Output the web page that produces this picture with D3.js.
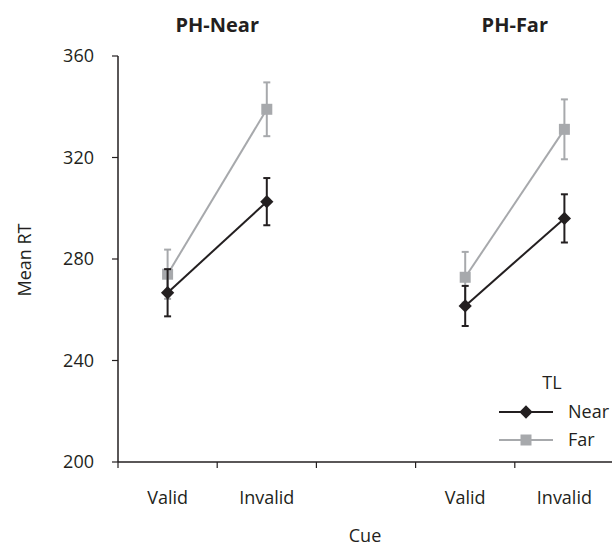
<!DOCTYPE html>
<html lang="en">
<head>
  <meta charset="UTF-8">
  <title>Mean RT by Cue</title>
  <script src="https://d3js.org/d3.v7.min.js"></script>
  <style>
    body {
      margin: 0;
      background: #fff;
    }
    text {
      font-family: "Open Sans", sans-serif;
      fill: #231f20;
    }
    .tick-label {
      font-size: 18px;
    }
    .panel-title {
      font-size: 20px;
      font-weight: bold;
    }
  </style>
</head>
<body>
  <svg id="chart" width="612" height="548"></svg>

  <script>
    // data, panel-major order: PH-Near Valid, PH-Near Invalid, PH-Far Valid, PH-Far Invalid
    const panels = ["PH-Near", "PH-Far"];
    const cues = ["Valid", "Invalid"];
    const nearMeans = [266.7, 302.6, 261.5, 296.0];
    const nearErr = [9.3, 9.3, 7.9, 9.5];
    const farMeans = [274.0, 339.0, 272.8, 331.1];
    const farErr = [9.7, 10.6, 10.0, 11.8];
    const yTicks = [200, 240, 280, 320, 360];

    const nearColor = "#231f20";
    const farColor = "#a7a9ac";

    const svg = d3.select("#chart");

    // slot 2 is the empty gap between the two panels
    const slots = [0, 1, 3, 4];
    const x = d3.scaleBand().domain([0, 1, 2, 3, 4]).range([118, 614]).padding(0);
    const y = d3.scaleLinear().domain([200, 360]).range([462, 56]);
    const cx = i => x(slots[i]) + x.bandwidth() / 2;

    // y axis
    const yAxis = svg.append("g").attr("transform", "translate(118,0)");
    yAxis.append("line")
      .attr("y1", y(360)).attr("y2", y(200))
      .attr("stroke", nearColor).attr("stroke-width", 1.5);
    yAxis.selectAll(".ytick").data(yTicks).enter().append("line")
      .attr("x1", -6).attr("x2", 0)
      .attr("y1", d => y(d)).attr("y2", d => y(d))
      .attr("stroke", nearColor).attr("stroke-width", 1.2);
    yAxis.selectAll(".ylab").data(yTicks).enter().append("text")
      .attr("class", "tick-label")
      .attr("x", -24)
      .attr("y", d => y(d))
      .attr("dy", "0.35em")
      .attr("text-anchor", "end")
      .text(d => d);

    // x axis
    const xAxis = svg.append("g").attr("transform", `translate(0,${y(200)})`);
    xAxis.append("line")
      .attr("x1", 118).attr("x2", 612)
      .attr("stroke", nearColor).attr("stroke-width", 1.5);
    xAxis.selectAll(".xtick").data(x.domain()).enter().append("line")
      .attr("x1", d => x(d)).attr("x2", d => x(d))
      .attr("y1", 0).attr("y2", 6)
      .attr("stroke", nearColor).attr("stroke-width", 1.2);
    xAxis.selectAll(".xlab").data(slots).enter().append("text")
      .attr("class", "tick-label")
      .attr("x", (d, i) => cx(i))
      .attr("y", 42)
      .attr("text-anchor", "middle")
      .text((d, i) => cues[i % 2]);

    // panel titles
    svg.selectAll(".panel-title").data(panels).enter().append("text")
      .attr("class", "panel-title")
      .attr("x", (d, i) => (cx(i * 2) + cx(i * 2 + 1)) / 2)
      .attr("y", 32)
      .attr("text-anchor", "middle")
      .text(d => d);

    // axis titles
    svg.append("text")
      .attr("class", "tick-label")
      .attr("transform", "translate(31,260) rotate(-90)")
      .attr("text-anchor", "middle")
      .text("Mean RT");
    svg.append("text")
      .attr("class", "tick-label")
      .attr("x", 365).attr("y", 542)
      .attr("text-anchor", "middle")
      .text("Cue");

    const diamond = d3.symbol().type(d3.symbolSquare).size(88);
    const square = d3.symbol().type(d3.symbolSquare).size(121);

    function drawSeries(means, errs, color, marker, rotate) {
      const g = svg.append("g");
      const pts = means.map((m, i) => ({ x: cx(i), m: m, e: errs[i] }));

      const line = d3.line().x(d => d.x).y(d => y(d.m));
      [pts.slice(0, 2), pts.slice(2, 4)].forEach(seg => {
        g.append("path")
          .attr("d", line(seg))
          .attr("fill", "none")
          .attr("stroke", color)
          .attr("stroke-width", 2);
      });

      pts.forEach(d => {
        g.append("line")
          .attr("x1", d.x).attr("x2", d.x)
          .attr("y1", y(d.m - d.e)).attr("y2", y(d.m + d.e))
          .attr("stroke", color).attr("stroke-width", 2);
        [d.m - d.e, d.m + d.e].forEach(v => {
          g.append("line")
            .attr("x1", d.x - 3.5).attr("x2", d.x + 3.5)
            .attr("y1", y(v)).attr("y2", y(v))
            .attr("stroke", color).attr("stroke-width", 2);
        });
        g.append("path")
          .attr("d", marker())
          .attr("transform", `translate(${d.x},${y(d.m)}) rotate(${rotate})`)
          .attr("fill", color);
      });
    }

    drawSeries(farMeans, farErr, farColor, square, 0);
    drawSeries(nearMeans, nearErr, nearColor, diamond, 45);

    // legend
    const legend = svg.append("g");
    legend.append("text")
      .attr("class", "tick-label")
      .attr("x", 552).attr("y", 389)
      .attr("text-anchor", "middle")
      .text("TL");
    const items = [
      { name: "Near", color: nearColor, marker: diamond, rotate: 45, y: 412 },
      { name: "Far", color: farColor, marker: square, rotate: 0, y: 440 }
    ];
    items.forEach(it => {
      legend.append("line")
        .attr("x1", 499).attr("x2", 553)
        .attr("y1", it.y).attr("y2", it.y)
        .attr("stroke", it.color).attr("stroke-width", 2);
      legend.append("path")
        .attr("d", it.marker())
        .attr("transform", `translate(526,${it.y}) rotate(${it.rotate})`)
        .attr("fill", it.color);
      legend.append("text")
        .attr("class", "tick-label")
        .attr("x", 568).attr("y", it.y)
        .attr("dy", "0.35em")
        .text(it.name);
    });
  </script>
</body>
</html>
